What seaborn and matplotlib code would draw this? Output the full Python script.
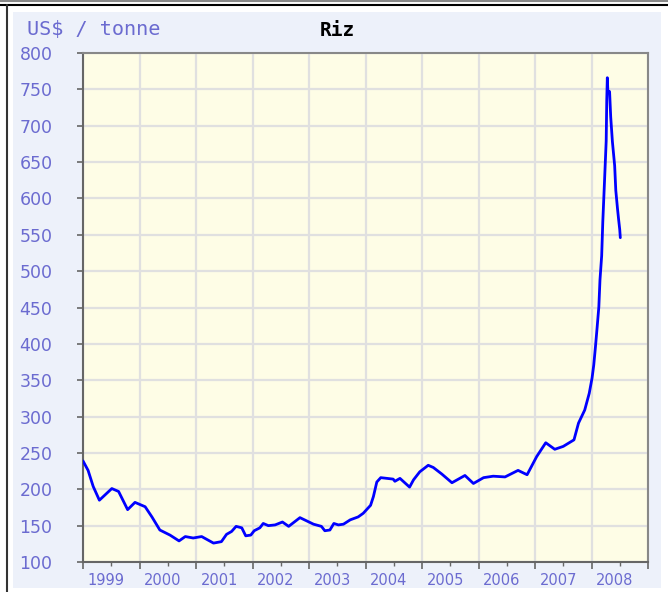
import numpy as np
import pandas as pd
import matplotlib
matplotlib.use("Agg")
import matplotlib.pyplot as plt
import matplotlib.transforms as mtransforms
from matplotlib.patches import Rectangle
from matplotlib.lines import Line2D
import seaborn as sns

# --------------------  DATA  --------------------
dates = [1999.00, 1999.09, 1999.18, 1999.29, 1999.51, 1999.63, 1999.79, 1999.92,
         2000.10, 2000.22, 2000.36, 2000.54, 2000.70, 2000.81, 2000.95,
         2001.10, 2001.31, 2001.45, 2001.54, 2001.63, 2001.71, 2001.81, 2001.88, 2001.97,
         2002.03, 2002.13, 2002.19, 2002.28, 2002.40, 2002.53, 2002.64, 2002.84,
         2003.08, 2003.22, 2003.28, 2003.37, 2003.44, 2003.52, 2003.61, 2003.73, 2003.87, 2003.96,
         2004.09, 2004.14, 2004.20, 2004.27, 2004.49, 2004.52, 2004.61, 2004.78, 2004.85, 2004.96,
         2005.11, 2005.20, 2005.35, 2005.53, 2005.76, 2005.91,
         2006.09, 2006.26, 2006.47, 2006.70, 2006.86,
         2007.03, 2007.19, 2007.35, 2007.50, 2007.69, 2007.77, 2007.88, 2007.96,
         2008.01, 2008.04, 2008.07, 2008.10, 2008.13, 2008.15, 2008.18, 2008.20, 2008.23,
         2008.26, 2008.27, 2008.28, 2008.29, 2008.32, 2008.34, 2008.37, 2008.41, 2008.43,
         2008.46, 2008.48, 2008.50, 2008.51]
prices = [239, 226, 204, 185, 201, 197, 172, 182,
          176, 162, 144, 137, 129, 135, 133,
          135, 126, 128, 138, 142, 149, 147, 136, 137,
          143, 147, 153, 150, 151, 155, 149, 161,
          152, 149, 143, 144, 153, 151, 152, 158, 162, 167,
          178, 190, 210, 216, 214, 211, 215, 203, 213, 224,
          233, 230, 221, 209, 219, 208,
          216, 218, 217, 226, 220,
          245, 264, 255, 259, 268, 291, 309, 332,
          353, 371, 396, 423, 451, 488, 521, 568, 623,
          679, 735, 766, 747, 747, 712, 678, 645, 611,
          586, 571, 557, 546]

years = list(range(1999, 2009))
year_labels = [str(y) for y in years]
y_ticks = list(range(100, 801, 50))

df = pd.DataFrame({"date": dates, "price": prices})

# --------------------  STYLE  --------------------
sns.set_style("white")
plt.rcParams["font.family"] = ["DejaVu Sans"]

label_col = "#6b6bd0"
panel_col = "#edf1fa"

fig = plt.figure(figsize=(6.68, 5.92), dpi=100)
W, H = 668, 592

# fond du cadre
fig.patches.append(Rectangle((13 / W, 1 - 588 / H), (661 - 13) / W, (588 - 12) / H,
                             transform=fig.transFigure, facecolor=panel_col,
                             edgecolor="none", zorder=-2))
fig.lines.append(Line2D([0, 1], [1 - 1 / H, 1 - 1 / H], transform=fig.transFigure,
                        color="#888888", lw=1.5))
fig.lines.append(Line2D([0, 1], [1 - 4.5 / H, 1 - 4.5 / H], transform=fig.transFigure,
                        color="#000000", lw=1.5))
fig.lines.append(Line2D([7 / W, 7 / W], [0, 1 - 4.5 / H], transform=fig.transFigure,
                        color="#333333", lw=1.5))

ax = fig.add_axes([83 / W, 1 - 562 / H, (648 - 83) / W, (562 - 53) / H])
ax.set_facecolor("#fefde6")

sns.lineplot(data=df, x="date", y="price", color="#0000ff", lw=2.0, ax=ax, zorder=3)

ax.set_xlim(1999, 2009)
ax.set_ylim(100, 800)
ax.set_yticks(y_ticks)
ax.set_yticklabels([str(v) for v in y_ticks])

ax.set_xticks(years + [2009])
ax.set_xticklabels([""] * 11)
ax.set_xticks([y + 0.5 for y in years], minor=True)
ax.set_xticklabels(year_labels, minor=True)

ax.grid(True, which="major", color="#e0e0e0", lw=1.6, zorder=0)
ax.set_axisbelow(True)

for s in ax.spines.values():
    s.set_color("#888888")
    s.set_linewidth(1.5)
ax.spines["left"].set_color("#666666")
ax.spines["bottom"].set_color("#666666")

ax.tick_params(axis="y", which="major", length=4, width=1.2, color="#666666",
               labelcolor=label_col, labelsize=12.5, pad=18, left=True)
ax.tick_params(axis="x", which="major", length=5, width=1.2, color="#666666",
               bottom=True)
ax.tick_params(axis="x", which="minor", length=3, width=1.0, color="#666666",
               labelcolor=label_col, labelsize=10.5, pad=5, bottom=True)

offset = mtransforms.ScaledTranslation(-5 / 100, 0, fig.dpi_scale_trans)
for lab in ax.xaxis.get_minorticklabels():
    lab.set_transform(lab.get_transform() + offset)

ax.set_xlabel("")
ax.set_ylabel("")

fig.text(27 / W, 1 - 30 / H, "US$ / tonne", color=label_col, fontsize=14.5,
         family="DejaVu Sans Mono", va="center", ha="left")
fig.text(337 / W, 1 - 30 / H, "Riz", color="black", fontsize=14,
         family="DejaVu Sans Mono", fontweight="bold", va="center", ha="center")

fig.savefig("out.png", dpi=100, facecolor="white")
